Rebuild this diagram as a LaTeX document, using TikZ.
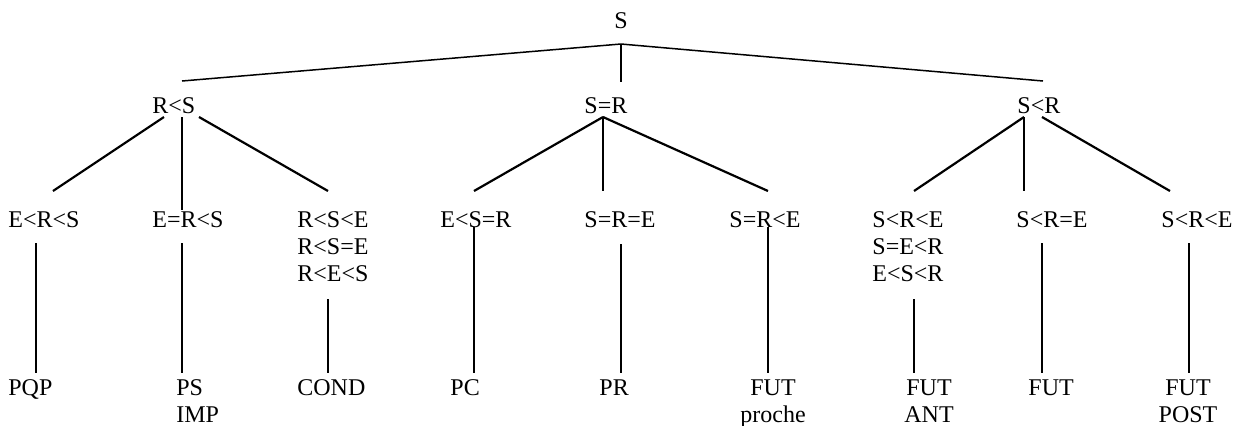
\documentclass[tikz,border=0pt]{standalone}
\usepackage{fontspec}
\setmainfont{Liberation Serif}
\tikzset{
    tense/.style={
        inner sep=0pt,font=\fontsize{12}{13.5}\selectfont
    },
    branch/.style={
        line width=1.1pt
    },
    stem/.style={
        line width=.75pt
    }
}

\begin{document}
\begin{tikzpicture}[x=.5pt, y=-.5pt]
\useasboundingbox (0,0) rectangle (1247,425);
% labels of the tree
\node[tense,anchor=base] (n0) at (621,28) {S};
\node[tense,anchor=base west] (n1) at (152,113) {R<S};
\node[tense,anchor=base west] (n2) at (584,113) {S=R};
\node[tense,anchor=base west] (n3) at (1017,113) {S<R};

\node[tense,anchor=base west] (n11) at (8,227) {E<R<S};
\node[tense,anchor=base west] (n12) at (152,227) {E=R<S};
\node[tense,anchor=north west,align=left] (n13) at (297,211) {R<S<E\\R<S=E\\R<E<S};
\node[tense,anchor=base west] (n21) at (440,227) {E<S=R};
\node[tense,anchor=base west] (n22) at (584,227) {S=R=E};
\node[tense,anchor=base west] (n23) at (729,227) {S=R<E};
\node[tense,anchor=north west,align=left] (n31) at (872,211) {S<R<E\\S=E<R\\E<S<R};
\node[tense,anchor=base west] (n32) at (1016,227) {S<R=E};
\node[tense,anchor=base west] (n33) at (1161,227) {S<R<E};

\node[tense,anchor=base west] (n11x) at (8,395) {PQP};
\node[tense,anchor=north west,align=left] (n12x) at (176,379) {PS\\IMP};
\node[tense,anchor=base west] (n13x) at (297,395) {COND};
\node[tense,anchor=base west] (n21x) at (450,395) {PC};
\node[tense,anchor=base west] (n22x) at (599,395) {PR};
\node[tense,anchor=north,align=center] (n23x) at (773,379) {FUT\\proche};
\node[tense,anchor=north,align=center] (n31x) at (929,379) {FUT\\ANT};
\node[tense,anchor=base west] (n32x) at (1028,395) {FUT};
\node[tense,anchor=north,align=center] (n33x) at (1188,379) {FUT\\POST};

% ends of the branches
\coordinate (t0) at (621,44);
\coordinate (t1) at (182,81);
\coordinate (t2) at (621,82);
\coordinate (t3) at (1043,81);
\coordinate (b1l) at (164,117);
\coordinate (b1m) at (182,117);
\coordinate (b1r) at (199,117);
\coordinate (b2) at (603,117);
\coordinate (b3m) at (1024,117);
\coordinate (b3r) at (1042,117);
\coordinate (e11) at (53,191);
\coordinate (e12) at (182,210);
\coordinate (e13) at (328,191);
\coordinate (e21) at (474,191);
\coordinate (e22) at (603,191);
\coordinate (e23) at (768,191);
\coordinate (e31) at (914,191);
\coordinate (e32) at (1024,191);
\coordinate (e33) at (1170,191);

\draw[stem] (t1) -- (t0) -- (t3);
\draw[stem] (t0) -- (t2);
\draw[branch] (b1l) -- (e11);
\draw[stem] (b1m) -- (e12);
\draw[branch] (b1r) -- (e13);
\draw[branch] (b2) -- (e21);
\draw[stem] (b2) -- (e22);
\draw[branch] (b2) -- (e23);
\draw[branch] (b3m) -- (e31);
\draw[stem] (b3m) -- (e32);
\draw[branch] (b3r) -- (e33);

% stems down to the tenses
\foreach \i/\x/\y in {11/36/243,12/182/243,13/328/299,21/474/227,22/621/244,23/768/227,31/914/299,32/1042/243,33/1189/243} {
    \coordinate (v\i) at (\x,\y);
    \coordinate (w\i) at (\x,373);
    \draw[stem] (v\i) -- (w\i);
}
\end{tikzpicture}
\end{document}
